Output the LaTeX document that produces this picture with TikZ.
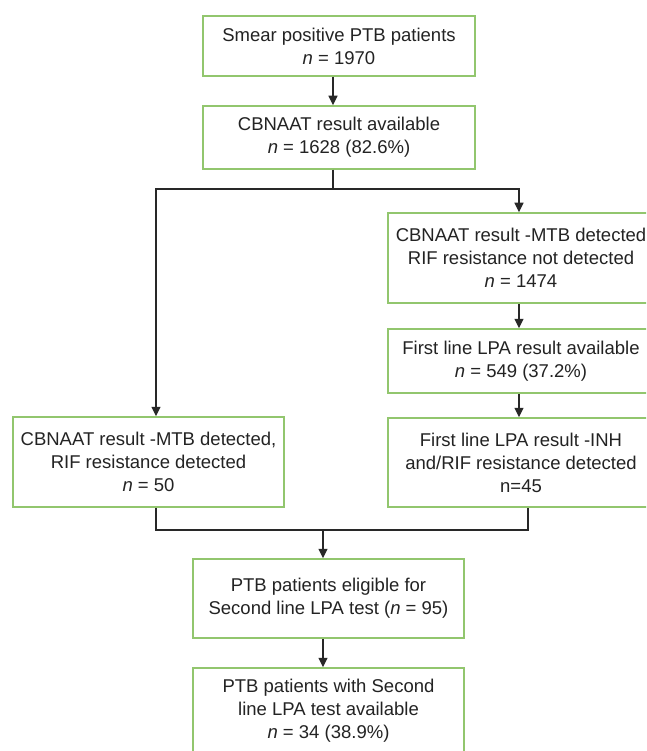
\documentclass[tikz,border=0pt]{standalone}
\usepackage{fontspec}
\setmainfont{Liberation Sans}
\usetikzlibrary{arrows.meta,calc}
\definecolor{boxgreen}{RGB}{146,198,110}
\definecolor{linegray}{RGB}{40,40,40}
\definecolor{txtgray}{RGB}{35,35,35}
\tikzset{
  fbox/.style={draw=boxgreen, line width=1.5pt, inner sep=0pt, align=center,
    text=txtgray, font=\fontsize{18.5}{23}\selectfont},
  conn/.style={draw=linegray, line width=1.3pt},
  arr/.style={conn, -{Triangle[length=9.5pt,width=9pt]}}
}
\begin{document}
\begin{tikzpicture}[x=1pt,y=-1pt]
\useasboundingbox (0,0) rectangle (646,751);
\clip (0,0) rectangle (646,751);
\fill[white] (0,0) rectangle (646,751);

\node[fbox, minimum width=272pt, minimum height=60pt] (b1) at (339,46)
  {Smear positive PTB patients\\ \textit{n} = 1970};
\node[fbox, minimum width=272pt, minimum height=63pt] (b2) at (339,137.5)
  {CBNAAT result available\\ \textit{n} = 1628 (82.6\%)};
\node[fbox, minimum width=266pt, minimum height=90pt] (r1) at (521,258)
  {CBNAAT result -MTB detected\\ RIF resistance not detected\\ \textit{n} = 1474};
\node[fbox, minimum width=266pt, minimum height=64pt] (r2) at (521,361)
  {First line LPA result available\\ \textit{n} = 549 (37.2\%)};
\node[fbox, minimum width=266pt, minimum height=89pt] (r3) at (521,462.5)
  {First line LPA result -INH\\ and/RIF resistance detected\\ n=45};
\node[fbox, minimum width=271pt, minimum height=90pt] (l1) at (148.5,462)
  {CBNAAT result -MTB detected,\\ RIF resistance detected\\ \textit{n} = 50};
\node[fbox, minimum width=271pt, minimum height=79pt] (b5) at (328.5,598.5)
  {PTB patients eligible for\\ Second line LPA test (\textit{n} = 95)};
\node[fbox, minimum width=271pt, minimum height=86pt] (b6) at (328.5,711)
  {PTB patients with Second\\ line LPA test available\\ \textit{n} = 34 (38.9\%)};

\coordinate (s1) at (333,0);
\coordinate (jl) at (156,189);
\coordinate (jr) at (519,189);
\coordinate (ml) at (156,530);
\coordinate (mr) at (528,530);
\coordinate (mc) at (323,530);

\draw[arr] (b1.south -| s1) -- (b2.north -| s1);
\draw[conn] (b2.south -| s1) -- (s1 |- jl);
\draw[arr] (jr) -| (l1.north -| jl);
\draw[arr] (s1 |- jr) -- (jr) -- (r1.north -| jr);
\draw[arr] (r1.south -| jr) -- (r2.north -| jr);
\draw[arr] (r2.south -| jr) -- (r3.north -| jr);
\draw[conn] (l1.south -| ml) -- (ml) -- (mr) -- (r3.south -| mr);
\draw[arr] (mc) -- (b5.north -| mc);
\draw[arr] (b5.south -| mc) -- (b6.north -| mc);
\end{tikzpicture}
\end{document}
